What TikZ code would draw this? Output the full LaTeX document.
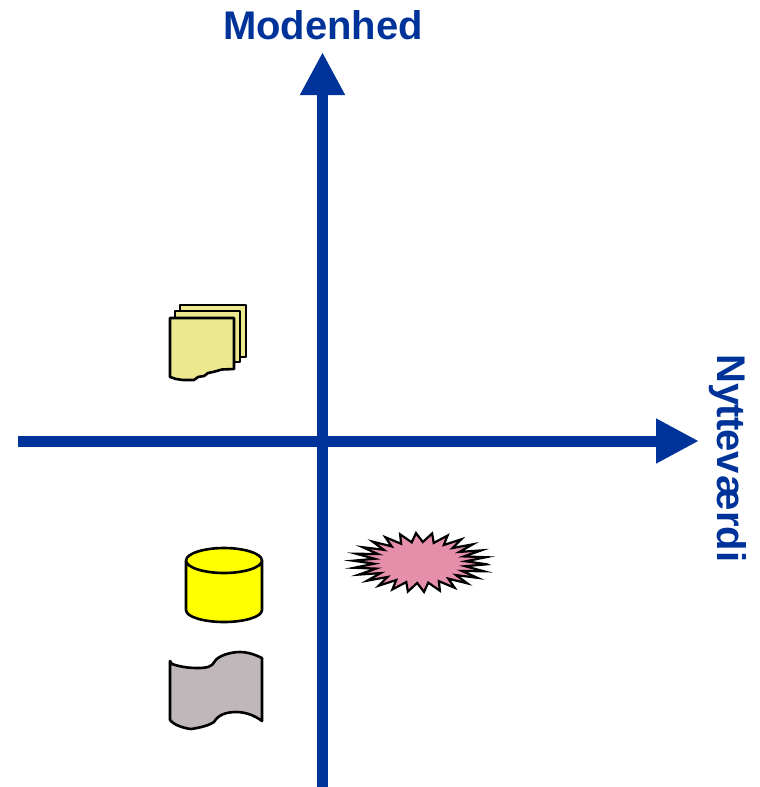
\documentclass[tikz,border=0pt]{standalone}
\usepackage{fontspec}
\setmainfont{Liberation Sans}
\usetikzlibrary{arrows.meta}
\definecolor{axisblue}{HTML}{003399}
\definecolor{paperyellow}{HTML}{EBE88F}
\definecolor{burstpink}{HTML}{E58FAA}
\definecolor{flaggray}{HTML}{BFB7B9}
\definecolor{drumyellow}{HTML}{FFFF00}
\tikzset{
  axis/.style={line width=11pt,axisblue,-{Triangle[length=43pt,width=42pt]}},
  axislabel/.style={text=axisblue,font=\fontsize{40}{40}\selectfont\bfseries,inner sep=0pt},
  shapeline/.style={draw=black,line width=2.6pt,line join=round},
  sheet/.style={shapeline,fill=paperyellow}
}
\begin{document}
\begin{tikzpicture}[x=1pt,y=-1pt]
\useasboundingbox (0,0) rectangle (760,787);
\node (modenhed) at (323,39)[anchor=base,axislabel]{Modenhed};
\node (nyttevaerdi) at (717,354)[anchor=base west,rotate=-90,axislabel]{Ny\kern-.5pt t\kern-1pt t\kern-1pt ev\kern2ptær\kern-.5pt di};
\coordinate (ybottom) at (322.5,787);
\coordinate (ytop) at (322.5,52);
\coordinate (xleft) at (18,441);
\coordinate (xright) at (699,441);
\draw [axis](ybottom)--(ytop);
\draw [axis](xleft)--(xright);
\draw [sheet](180,357)--(180,305)--(246,305)--(246,357)--cycle;
\draw [sheet](175,362)--(175,311)--(240,311)--(240,362)--cycle;
\draw [sheet](170,377)--(170,318)--(234,318)--(234,369)--(222,369.5)--(213,372)--(208,373)--(204,376)--(198,377)--(194,380)
  --(183,380)--(176,379)--cycle;
\draw [shapeline,fill=burstpink,line width=2.2pt,line join=miter] plot[samples=53,domain=0:52]
  ({420+(56.5+10.5*cos(\x*180))*cos(\x*6.92308+3.5)},{562.5+(25+4.5*cos(\x*180))*sin(\x*6.92308+3.5)})--cycle;
\draw [shapeline,fill=drumyellow](186,560.5)--(186,610)
  .. controls (186,617) and (204,622) .. (224,622)
  .. controls (244,622) and (262,617) .. (262,610)--(262,560.5)
  .. controls (262,553.5) and (244,548) .. (224,548)
  .. controls (204,548) and (186,553.5) .. (186,560.5)
  .. controls (186,567.5) and (204,573) .. (224,573)
  .. controls (244,573) and (262,567.5) .. (262,560.5);
\draw [shapeline,fill=flaggray](170,661)--(172,664)
  .. controls (178,666) and (186,668) .. (197,668)
  .. controls (207,668) and (212,667) .. (215,661)
  .. controls (218,656) and (230,652) .. (240,652)
  .. controls (248,652) and (256,655) .. (262,658)--(262,721)
  .. controls (254,715) and (245,712) .. (236,712)
  .. controls (226,712) and (218,715) .. (214,722)
  .. controls (208,726) and (198,728) .. (191,729)
  .. controls (183,728) and (174,725) .. (170,720)--cycle;
\end{tikzpicture}
\end{document}
